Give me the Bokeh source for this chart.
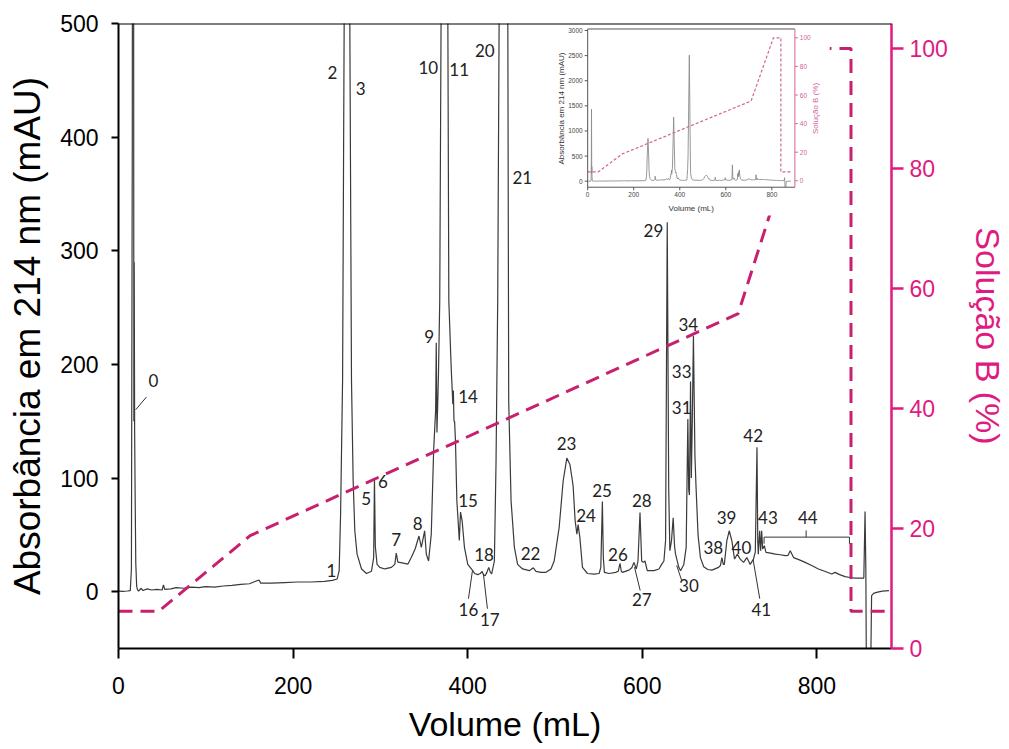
from bokeh.plotting import figure
from bokeh.models import Range1d, LinearAxis, FixedTicker, Span, ColumnDataSource
from bokeh.core.properties import value
from bokeh.embed import file_html
from bokeh.resources import INLINE

# ---------------- data ----------------
VOLUME = [0, 5, 10, 13.5, 14.8, 15.8, 16.6, 17.3, 17.6, 18.0, 18.5, 19.0, 19.8, 20.8, 21.6, 23, 26, 28, 33, 38,
          44, 50, 51.5, 53, 60, 66, 75, 84, 92, 100, 110, 120, 130, 140, 150, 155, 161, 163, 175, 190,
          205, 220, 236, 245, 250.5, 252.8, 254.4, 256.7, 258.5, 262, 265, 266.9, 268.8, 270.7, 273.3, 278.4,
          284.1, 289.8, 292.3, 293.2, 294.2, 296.2, 299.3, 305, 312.6, 316.5, 318.2, 320, 322, 331.6, 335.4,
          340, 344.2, 346.9, 350.7, 352.6, 355.2, 358.3, 361, 363.3, 364, 364.8, 366.5, 368, 369.5, 373.5,
          377.3, 378.4, 381.1, 383, 383.6, 384.3, 385, 386, 387.6, 389.5, 390.4, 391.8, 393.7, 396.3, 400.1,
          405.8, 408, 411.5, 414.5, 416.6, 418, 420, 422, 424.1, 426, 427.5, 430.6, 432.5, 434.4, 436, 441.5,
          446, 447, 449.7, 453.5, 457.2, 462.9, 470.6, 475.2, 478.2, 484, 489.7, 495.4, 499.1, 504.8, 509.4,
          513.6, 517.1, 519.4, 520.8, 523.1, 525.1, 526.5, 528.5, 531.5, 537.2, 545, 550.6, 552.5, 554.3,
          555.4, 556.6, 562, 569.6, 572.5, 574.5, 576, 577.2, 584.8, 588, 590.5, 593.2, 595.1, 597.4, 599.3,
          601.1, 603.1, 605.7, 613.4, 619.1, 622.2, 624.8, 626.7, 628.6, 630.3, 631.6, 633.5, 635.4, 637,
          638.1, 641.9, 643.9, 647.6, 650.3, 652.2, 653.2, 654, 655.3, 656.2, 657.3, 658.6, 660.3, 661.6,
          663.9, 666.6, 670.4, 675, 679.8, 687.4, 689.5, 691.2, 692.8, 694, 696.9, 699.6, 702.6, 705.7,
          708.8, 712.2, 716, 719.8, 723.6, 727.4, 729.5, 731.4, 732.3, 732.9, 734.5, 735.6, 736.8, 737.9,
          739.8, 741.7, 747, 752.4, 758, 763.8, 767, 769.5, 773.3, 780, 786.6, 794, 801.8, 809, 817, 820.9,
          826, 832.3, 838, 843.7, 849, 853.8, 855.2, 856.1, 857, 861, 862.7, 865, 868.4, 875, 882.6]
ABSORBANCE = [0.5, 0.3, 0.6, 1, 20, 400, 1430, 600, 150, 290, 140, 90, 25, 5, 2, 0.5, 3, 1, 2.5, 1.5,
              2, 1.5, 6, 2, 2.5, 3.5, 3, 4, 3.5, 4.5, 4, 5, 5.5, 6.5, 7, 8.5, 10.3, 7.5, 7.5, 8,
              8.5, 8.5, 9, 10, 11.2, 18.5, 68, 186, 500, 850, 500, 186, 97.6, 53.6, 33, 20,
              16, 18, 30, 99.6, 40, 24, 21.4, 20, 21.4, 24, 34, 26, 25.8, 24.3, 30,
              38, 49, 39, 53.6, 33, 27, 50.7, 124, 160, 219, 140, 190, 256, 500, 1275,
              500, 256, 197, 165, 177, 150, 150, 133, 80, 56.6, 45, 70, 62, 39, 24,
              18.5, 16, 15, 16, 17.9, 15, 14, 17, 21.4, 17, 15.6, 27, 115, 256, 500, 2510,
              500, 168, 80, 39, 24, 20, 18.5, 21, 17.9, 17, 17, 20, 27, 56.6, 97.6,
              117.6, 112, 100.5, 93, 62.4, 50.7, 59, 47.8, 21.4, 16, 15.5, 16, 21.4, 79.4,
              30, 17, 16, 17, 18, 25, 18, 17, 19, 21, 25.8, 20, 27, 69.7, 27,
              25.8, 27, 18.5, 18.5, 20, 24, 27, 45, 325, 90, 36, 45, 65, 40,
              33, 21.4, 18.5, 24, 39, 152, 90, 85, 185, 100, 150, 225, 120, 92,
              50, 30, 22, 19.5, 19, 21.4, 23, 30, 24, 24, 45, 53.6, 45, 28.7,
              33, 28.7, 25.8, 30, 24, 28.7, 35, 127, 45, 33, 53.6, 36, 53.6, 37.5,
              40.5, 34.6, 34, 33, 32.5, 31.7, 32, 36, 30, 28, 25.8, 23, 20, 18, 15.6, 17,
              15, 13.2, 12.5, 12, 12, 12, 70.6, 20, -110, -110, -3.5, -1.5, -0.6, 0.5, 0.9]

GRAD_VOLUME = [0, 46, 150.8, 709.8, 806.8, 839.1, 839.1, 885.5]
GRAD_B = [6.2, 6.2, 18.8, 55.8, 100, 100, 6.2, 6.2]

PEAK_IDS = ["0", "1", "2", "3", "5", "6", "7", "8", "9", "10", "11", "14", "15", "16", "17", "18",
            "20", "21", "22", "23", "24", "25", "26", "27", "28", "29", "30", "31", "33", "34",
            "38", "39", "40", "41", "42", "43", "44"]
PEAK_LABEL_V = [39.9, 243.9, 245, 277.3, 283.8, 302.8, 318, 342.7, 356, 354.9, 390.3, 400.5, 400.5, 400.9,
                425.3, 418.8, 419.6, 462.5, 472.1, 513.2, 535.6, 553.9, 572.1, 599.5, 599.5, 612.8, 653.5,
                645.1, 645.1, 652.7, 681.3, 696.5, 713.6, 736.4, 727, 744, 789.7]
PEAK_LABEL_A = [185.8, 18.7, 457, 442.9, 81.8, 97, 45.7, 60.3, 224.5, 461.4, 459.1, 172, 80.3, -15.8,
                -24.6, 32.8, 476, 364.6, 33.4, 130.7, 67.1, 89.1, 32.8, -7, 80.3, 317.8, 5.5,
                162.4, 194, 235.5, 38.7, 65.6, 38.7, -15.8, 137.5, 65.6, 65.6]

LEADER_V0 = [32, 400.9, 422.6, 597.6, 645.1, 734.6]
LEADER_A0 = [171.3, -6.2, -15, 1.1, 9.9, -6.2]
LEADER_V1 = [19.7, 405.5, 418, 591.1, 639.4, 727]
LEADER_A1 = [160.1, 18.7, 15.8, 21.6, 23.2, 28.1]

BRACKET_V = [739.5, 739.5, 837.3, 837.3]
BRACKET_A = [42.2, 48, 48, 42.2]
BRACKET_MID_V = [787.7, 787.7]
BRACKET_MID_A = [48, 53.9]

X_TICKS = [0, 200, 400, 600, 800]
Y_TICKS = [0, 100, 200, 300, 400, 500]
B_TICKS = [0, 20, 40, 60, 80, 100]
INSET_X_TICKS = [0, 200, 400, 600, 800]
INSET_Y_TICKS = [0, 500, 1000, 1500, 2000, 2500, 3000]
INSET_B_TICKS = [0, 20, 40, 60, 80, 100]

# ---------------- layout constants (image pixels) ----------------
W, H = 1009, 749
FL, FR, FT, FB = 118, 894, 23, 648
MAGENTA = "#df1a80"
DASH = "#c8206f"
FONT = "Liberation Sans"

p = figure(width=W, height=H, x_range=Range1d(0, 885.5), y_range=Range1d(-50, 500),
           output_backend="svg", toolbar_location=None,
           min_border_left=FL, min_border_right=W - FR,
           min_border_top=FT, min_border_bottom=H - FB)
p.outline_line_color = None
p.grid.visible = False
p.background_fill_color = "white"

p.extra_y_ranges = {"right": Range1d(0, (FB - FT) / 6.0)}


def mk_range(d0, d1, p0, p1, f0, f1):
    s = (d1 - d0) / (p1 - p0)
    return Range1d(d0 + (f0 - p0) * s, d0 + (f1 - p0) * s)


# inset ranges: data -> image pixel box
IX = mk_range(0, 900, 589, 797, FL, FR)
IY = mk_range(0, 3000, FB - 180.7, FB - 30, 0, FB - FT)
IB = mk_range(0, 100, FB - 180.3, FB - 37.3, 0, FB - FT)
p.extra_x_ranges = {"ix": IX}
p.extra_y_ranges["iy"] = IY
p.extra_y_ranges["ib"] = IB


def ixp(px):
    return IX.start + (px - FL) * (IX.end - IX.start) / (FR - FL)


def iyp(py):
    return IY.start + (FB - py) * (IY.end - IY.start) / (FB - FT)


# axes styling
for ax in (p.xaxis[0], p.yaxis[0]):
    ax.axis_line_width = 2
    ax.axis_line_color = "black"
    ax.major_tick_line_width = 2
    ax.major_tick_line_color = "black"
    ax.major_tick_in = 0
    ax.minor_tick_line_color = None
    ax.major_label_text_font = FONT
    ax.major_label_text_font_size = "23px"
    ax.major_label_text_color = "black"
    ax.axis_label_text_font = FONT
    ax.axis_label_text_font_style = "normal"
    ax.axis_label_text_color = "black"

p.xaxis.ticker = FixedTicker(ticks=X_TICKS)
p.xaxis.major_tick_out = 10
p.xaxis.major_label_standoff = 18
p.xaxis.axis_label = "Volume (mL)"
p.xaxis.axis_label_text_font_size = "34px"
p.xaxis.axis_label_standoff = 8

p.yaxis.ticker = FixedTicker(ticks=Y_TICKS)
p.yaxis.major_tick_out = 7
p.yaxis.major_label_standoff = 13
p.yaxis.axis_label = "Absorbância em 214 nm (mAU)"
p.yaxis.axis_label_text_font_size = "37px"
p.yaxis.axis_label_standoff = 9

rax = LinearAxis(y_range_name="right", ticker=FixedTicker(ticks=B_TICKS),
                 axis_label="Solução B (%)")
rax.axis_line_color = MAGENTA
rax.axis_line_width = 2.5
rax.major_tick_line_color = MAGENTA
rax.major_tick_line_width = 2.5
rax.major_tick_in = 0
rax.major_tick_out = 12
rax.minor_tick_line_color = None
rax.major_label_text_color = MAGENTA
rax.major_label_text_font = FONT
rax.major_label_text_font_size = "23px"
rax.major_label_standoff = 6
rax.axis_label_text_color = MAGENTA
rax.axis_label_text_font = FONT
rax.axis_label_text_font_style = "normal"
rax.axis_label_text_font_size = "34px"
rax.axis_label_standoff = 18
p.add_layout(rax, "right")

# main chromatogram
p.line(VOLUME, ABSORBANCE, line_color="#3a3a3a", line_width=1.2)

# gradient
p.line(GRAD_VOLUME, GRAD_B, y_range_name="right", line_color=DASH, line_width=3, line_dash="14 8")

# leaders and bracket
p.segment(LEADER_V0, LEADER_A0, LEADER_V1, LEADER_A1, line_color="#333333", line_width=1)
p.line(BRACKET_V, BRACKET_A, line_color="#333333", line_width=1)
p.line(BRACKET_MID_V, BRACKET_MID_A, line_color="#333333", line_width=1)

lab = ColumnDataSource(dict(x=PEAK_LABEL_V, y=PEAK_LABEL_A, t=PEAK_IDS))
p.text(x="x", y="y", text="t", source=lab, text_font=value("Lato"), text_font_size="17px",
       text_align="center", text_baseline="middle", text_color="#222222")

# ---------------- inset (opaque panel) ----------------
IX0, IX1 = 0, 900
IY0, IY1 = -120, 3030
p.quad(left=[ixp(548)], right=[ixp(832)], bottom=[iyp(215)], top=[iyp(26)],
       x_range_name="ix", y_range_name="iy", fill_color="white", line_color=None)
p.line(VOLUME, ABSORBANCE, x_range_name="ix", y_range_name="iy", line_color="#8c8c8c", line_width=0.9)
p.line(GRAD_VOLUME, GRAD_B, x_range_name="ix", y_range_name="ib", line_color="#d0659b",
       line_width=1.2, line_dash="3 2")
# inset frame
p.segment([IX0, IX0, IX0], [IY0, IY0, IY1], [IX0, IX1, IX1], [IY1, IY0, IY1],
          x_range_name="ix", y_range_name="iy", line_color="#555555", line_width=1)
p.segment([IX1], [IY0], [IX1], [IY1], x_range_name="ix", y_range_name="iy",
          line_color="#d0659b", line_width=1)
tx = (IX.end - IX.start) / (FR - FL)   # data per px
ty = (IY.end - IY.start) / (FB - FT)
p.segment(x0=[IX0] * len(INSET_Y_TICKS), y0=INSET_Y_TICKS, x1=[IX0 - 3 * tx] * len(INSET_Y_TICKS),
          y1=INSET_Y_TICKS, x_range_name="ix", y_range_name="iy", line_color="#555555")
p.segment(x0=INSET_X_TICKS, y0=[IY0] * len(INSET_X_TICKS), x1=INSET_X_TICKS,
          y1=[IY0 - 3 * ty] * len(INSET_X_TICKS), x_range_name="ix", y_range_name="iy", line_color="#555555")
p.segment(x0=[IX1] * len(INSET_B_TICKS), y0=INSET_B_TICKS, x1=[IX1 + 3 * tx] * len(INSET_B_TICKS),
          y1=INSET_B_TICKS, x_range_name="ix", y_range_name="ib", line_color="#d0659b")
p.text(x=[IX0 - 5 * tx] * len(INSET_Y_TICKS), y=INSET_Y_TICKS, text=[str(t) for t in INSET_Y_TICKS],
       x_range_name="ix", y_range_name="iy", text_font=value(FONT), text_font_size="6.5px",
       text_align="right", text_baseline="middle", text_color="#444444")
p.text(x=INSET_X_TICKS, y=[IY0 - 5 * ty] * len(INSET_X_TICKS), text=[str(t) for t in INSET_X_TICKS],
       x_range_name="ix", y_range_name="iy", text_font=value(FONT), text_font_size="6.5px",
       text_align="center", text_baseline="top", text_color="#444444")
p.text(x=[IX1 + 5 * tx] * len(INSET_B_TICKS), y=INSET_B_TICKS, text=[str(t) for t in INSET_B_TICKS],
       x_range_name="ix", y_range_name="ib", text_font=value(FONT), text_font_size="6.5px",
       text_align="left", text_baseline="middle", text_color="#d0659b")
p.text(x=[(IX0 + IX1) / 2], y=[iyp(208)], text=["Volume (mL)"], x_range_name="ix", y_range_name="iy",
       text_font=value(FONT), text_font_size="8px", text_align="center", text_baseline="middle",
       text_color="#333333")
p.text(x=[ixp(563)], y=[iyp(108)], text=["Absorbância em 214 nm (mAU)"], x_range_name="ix",
       y_range_name="iy", angle=1.5708, text_font=value(FONT), text_font_size="8px",
       text_align="center", text_baseline="middle", text_color="#333333")
p.text(x=[ixp(818)], y=[iyp(108)], text=["Solução B (%)"], x_range_name="ix",
       y_range_name="iy", angle=1.5708, text_font=value(FONT), text_font_size="8px",
       text_align="center", text_baseline="middle", text_color="#d0659b")

# top frame line (drawn last so the inset panel does not hide it)
p.add_layout(Span(location=500, dimension="width", line_color="black", line_width=2))

open("out.html", "w").write(file_html(p, INLINE))
